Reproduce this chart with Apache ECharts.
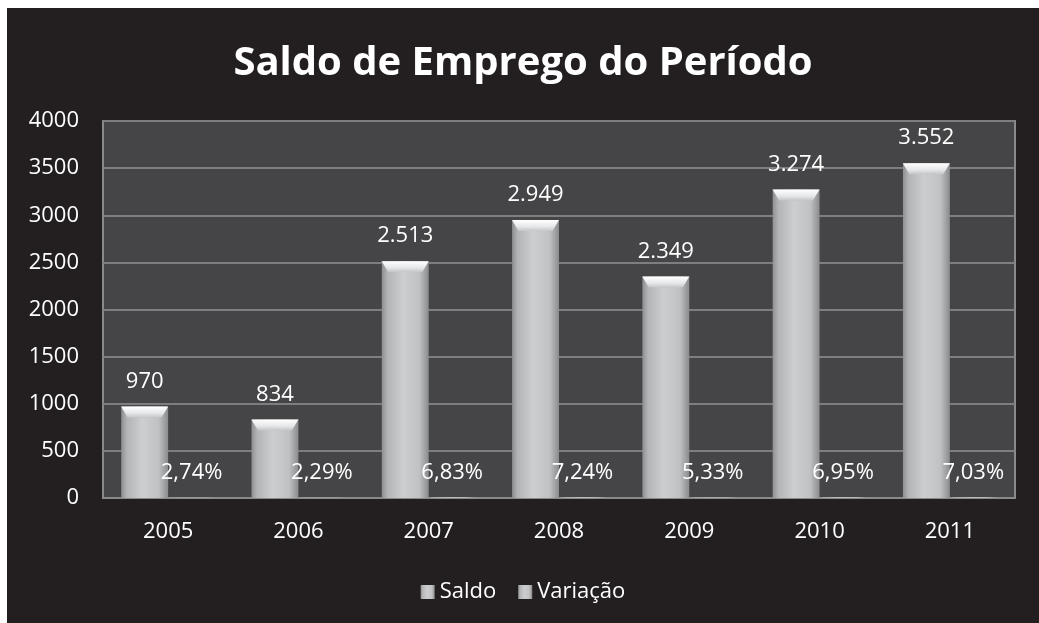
<!DOCTYPE html>
<html>
<head>
<meta charset="utf-8">
<script src="https://cdn.jsdelivr.net/npm/echarts@6/dist/echarts.min.js"></script>
<style>
html,body{margin:0;padding:0;background:#ffffff;}
#c{position:absolute;left:7px;top:8px;width:1032px;height:615px;background:#231f20;}
</style>
</head>
<body>
<div id="c"></div>
<script>
var categories = ['2005','2006','2007','2008','2009','2010','2011'];
var saldo = [970, 834, 2513, 2949, 2349, 3274, 3552];
var variacao = [2.74, 2.29, 6.83, 7.24, 5.33, 6.95, 7.03];
var yTicks = { min: 0, max: 4000, interval: 500 };

var FONT = 'Open Sans';
function fmtThousands(v){
  return String(v).replace(/\B(?=(\d{3})+(?!\d))/g, '.');
}
function fmtPct(v){
  return v.toFixed(2).replace('.', ',') + '%';
}
var barGrad = {
  type: 'linear', x: 0, y: 0, x2: 1, y2: 0,
  colorStops: [
    {offset: 0, color: '#8e8f91'},
    {offset: 0.12, color: '#b3b4b6'},
    {offset: 0.45, color: '#cdced0'},
    {offset: 0.8, color: '#c0c1c3'},
    {offset: 1, color: '#8a8b8d'}
  ]
};
var bevelGrad = {
  type: 'linear', x: 0, y: 0, x2: 0, y2: 1,
  colorStops: [
    {offset: 0, color: '#ffffff'},
    {offset: 0.6, color: '#e6e7e8'},
    {offset: 1, color: '#c4c5c7'}
  ]
};
var chart = echarts.init(document.getElementById('c'), null, {renderer: 'canvas'});
chart.setOption({
  backgroundColor: '#231f20',
  animation: false,
  textStyle: { fontFamily: FONT, color: '#ffffff' },
  title: {
    text: 'Saldo de Emprego do Período',
    left: 'center',
    top: 31,
    textStyle: { color: '#ffffff', fontSize: 40, fontWeight: 'bold', fontFamily: FONT }
  },
  legend: {
    bottom: 15,
    left: 'center',
    itemWidth: 14,
    itemHeight: 14,
    itemGap: 22,
    icon: 'rect',
    textStyle: { color: '#ffffff', fontSize: 22, fontFamily: FONT },
    data: ['Saldo', 'Variação']
  },
  grid: {
    left: 96, right: 24, top: 113, bottom: 125,
    show: true,
    backgroundColor: '#454547',
    borderColor: '#8a8a8c',
    borderWidth: 2
  },
  xAxis: {
    type: 'category',
    data: categories,
    axisLine: { show: true, lineStyle: { color: '#8a8a8c', width: 2 } },
    axisTick: { show: false },
    axisLabel: { color: '#ffffff', fontSize: 22, margin: 23, fontFamily: FONT }
  },
  yAxis: {
    type: 'value',
    min: yTicks.min, max: yTicks.max, interval: yTicks.interval,
    axisLine: { show: false },
    axisTick: { show: false },
    axisLabel: { color: '#ffffff', fontSize: 22, margin: 24, fontFamily: FONT,
      formatter: function(v){ return String(v); } },
    splitLine: { show: true, lineStyle: { color: '#7e7e80', width: 2 } }
  },
  series: [
    {
      name: 'Saldo',
      type: 'bar',
      data: saldo,
      barGap: '0%',
      barCategoryGap: '28%',
      itemStyle: { color: barGrad },
      label: {
        show: true, position: 'top', distance: 14,
        color: '#ffffff', fontSize: 22, fontFamily: FONT,
        formatter: function(p){ return fmtThousands(p.value); }
      }
    },
    {
      name: 'Variação',
      type: 'bar',
      data: variacao,
      itemStyle: { color: barGrad },
      label: {
        show: true, position: 'top', distance: 14,
        color: '#ffffff', fontSize: 22, fontFamily: FONT,
        formatter: function(p){ return fmtPct(p.value); }
      }
    },
    {
      name: 'bevelSaldo',
      type: 'pictorialBar',
      data: saldo,
      symbol: 'path://M0,0 L100,0 L86,100 L14,100 Z',
      symbolSize: [47, 11],
      symbolPosition: 'end',
      symbolOffset: ['-50%', 0],
      itemStyle: { color: bevelGrad },
      z: 5,
      silent: true
    }
  ]
});
</script>
</body>
</html>
